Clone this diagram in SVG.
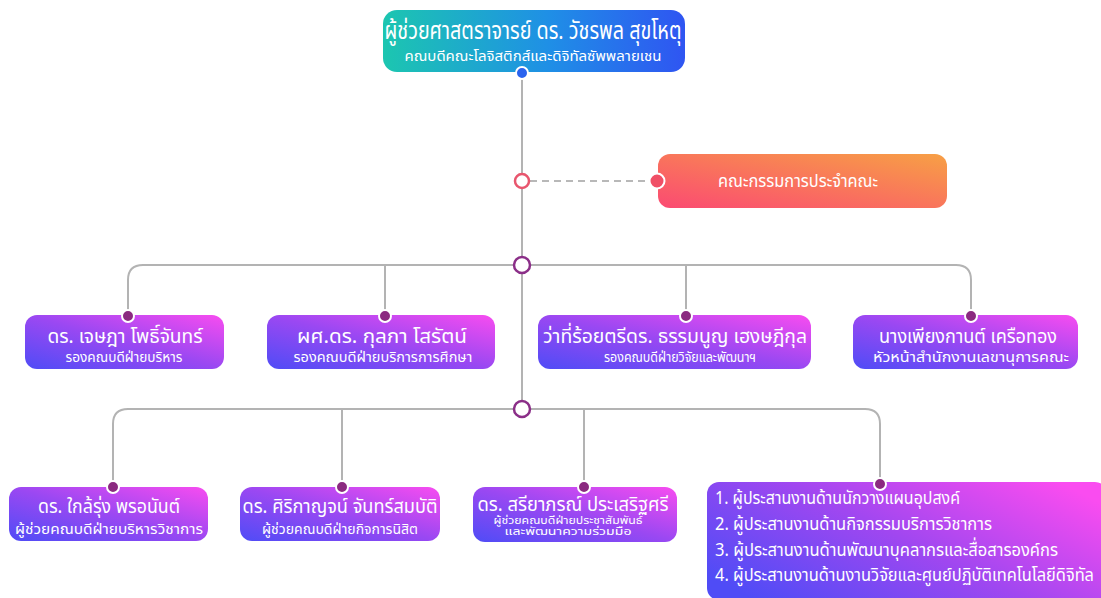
<svg xmlns="http://www.w3.org/2000/svg" width="1101" height="598" viewBox="0 0 1101 598">
<defs>
<linearGradient id="gTop" x1="0" y1="0" x2="1" y2="0">
<stop offset="0" stop-color="#1cc6b0"/><stop offset="0.55" stop-color="#1f8fe6"/><stop offset="1" stop-color="#2f55f2"/>
</linearGradient>
<linearGradient id="gRed" x1="0" y1="1" x2="1" y2="0">
<stop offset="0" stop-color="#fb4a72"/><stop offset="1" stop-color="#f7a045"/>
</linearGradient>
<linearGradient id="gPur" x1="0" y1="1" x2="1" y2="0">
<stop offset="0" stop-color="#4f4cf6"/><stop offset="0.5" stop-color="#9a48f2"/><stop offset="1" stop-color="#f84cf0"/>
</linearGradient>
<linearGradient id="gPur8" x1="0" y1="0.8" x2="1" y2="0.2">
<stop offset="0" stop-color="#4f4cf6"/><stop offset="0.5" stop-color="#a047f0"/><stop offset="1" stop-color="#fa4cf0"/>
</linearGradient>
</defs>
<style>
text{font-family:"Noto Sans Thai","Noto Sans","DejaVu Sans",sans-serif;fill:#fff;text-anchor:middle}
.nm{font-size:20px}
.rl{font-size:14px}
.l8{font-size:18.5px;text-anchor:start}
.ln{fill:none;stroke:#b3b3b3;stroke-width:2}
.ring{fill:#fff;stroke:#8b2f88;stroke-width:2.5}
.dot{fill:#8b2a80;stroke:#fff;stroke-width:2}
.box{fill:url(#gPur)}
</style>
<rect width="1101" height="598" fill="#fff"/>
<g id="connectors">
<path class="ln" d="M522 78 V409"/>
<path d="M530 181 H649" fill="none" stroke="#b8b8b8" stroke-width="2" stroke-dasharray="7 5"/>
<path class="ln" d="M128 316 V280 Q128 265 143 265 H956 Q971 265 971 280 V316"/>
<path class="ln" d="M385 265 V316 M686 265 V316"/>
<path class="ln" d="M113 487 V424 Q113 409 128 409 H865 Q880 409 880 424 V482"/>
<path class="ln" d="M342 409 V487 M584 409 V487"/>
</g>
<g id="dean">
<rect x="383" y="10" width="302" height="62" rx="14" fill="url(#gTop)"/>
<text x="533" y="39" style="font-size:24px" textLength="297" lengthAdjust="spacingAndGlyphs">ผู้ช่วยศาสตราจารย์ ดร. วัชรพล  สุขโหตุ</text>
<text x="533" y="61" style="font-size:14.5px" textLength="257" lengthAdjust="spacingAndGlyphs">คณบดีคณะโลจิสติกส์และดิจิทัลซัพพลายเชน</text>
<circle cx="522" cy="73" r="6" fill="#2a63ee" stroke="#fff" stroke-width="2"/>
</g>
<g id="committee">
<rect x="658" y="154" width="289" height="54" rx="12" fill="url(#gRed)"/>
<text x="798" y="187" style="font-size:18px" textLength="160" lengthAdjust="spacingAndGlyphs">คณะกรรมการประจำคณะ</text>
<circle cx="522" cy="181" r="7" fill="#fff" stroke="#e8566e" stroke-width="2.5"/>
<circle cx="657" cy="181" r="7.5" fill="#f04f66" stroke="#fff" stroke-width="2"/>
</g>
<g id="hub1"><circle class="ring" cx="522" cy="265" r="8"/></g>
<g id="hub2"><circle class="ring" cx="522" cy="409" r="8"/></g>
<g id="n1">
<rect class="box" x="25" y="315" width="199" height="54" rx="12"/>
<text class="nm" x="125" y="343" textLength="155" lengthAdjust="spacingAndGlyphs">ดร. เจษฎา  โพธิ์จันทร์</text>
<text class="rl" x="124" y="362" textLength="117" lengthAdjust="spacingAndGlyphs">รองคณบดีฝ่ายบริหาร</text>
<circle class="dot" cx="128" cy="316" r="6"/>
</g>
<g id="n2">
<rect class="box" x="267" y="315" width="228" height="54" rx="12"/>
<text class="nm" x="382" y="343" textLength="170" lengthAdjust="spacingAndGlyphs">ผศ.ดร. กุลภา  โสรัตน์</text>
<text class="rl" x="383" y="362" textLength="179" lengthAdjust="spacingAndGlyphs">รองคณบดีฝ่ายบริการการศึกษา</text>
<circle class="dot" cx="385" cy="316" r="6"/>
</g>
<g id="n3">
<rect class="box" x="538" y="315" width="273" height="54" rx="12"/>
<text class="nm" x="675" y="343" textLength="264" lengthAdjust="spacingAndGlyphs">ว่าที่ร้อยตรีดร. ธรรมนูญ  เฮงษฎีกุล</text>
<text class="rl" x="680" y="362" textLength="152" lengthAdjust="spacingAndGlyphs">รองคณบดีฝ่ายวิจัยและพัฒนาฯ</text>
<circle class="dot" cx="686" cy="316" r="6"/>
</g>
<g id="n4">
<rect class="box" x="853" y="315" width="225" height="54" rx="12"/>
<text class="nm" x="968" y="343" textLength="178" lengthAdjust="spacingAndGlyphs">นางเพียงกานต์ เครือทอง</text>
<text class="rl" x="971" y="362" textLength="196" lengthAdjust="spacingAndGlyphs">หัวหน้าสำนักงานเลขานุการคณะ</text>
<circle class="dot" cx="971" cy="316" r="6"/>
</g>
<g id="n5">
<rect class="box" x="9" y="487" width="199" height="54" rx="12"/>
<text class="nm" x="109" y="513" textLength="142" lengthAdjust="spacingAndGlyphs">ดร. ใกล้รุ่ง พรอนันต์</text>
<text class="rl" x="109" y="534" textLength="188" lengthAdjust="spacingAndGlyphs">ผู้ช่วยคณบดีฝ่ายบริหารวิชาการ</text>
<circle class="dot" cx="113" cy="487" r="6"/>
</g>
<g id="n6">
<rect class="box" x="240" y="487" width="200" height="54" rx="12"/>
<text class="nm" x="340" y="513" textLength="195" lengthAdjust="spacingAndGlyphs">ดร. ศิริกาญจน์ จันทร์สมบัติ</text>
<text class="rl" x="340" y="534" textLength="156" lengthAdjust="spacingAndGlyphs">ผู้ช่วยคณบดีฝ่ายกิจการนิสิต</text>
<circle class="dot" cx="342" cy="487" r="6"/>
</g>
<g id="n7">
<rect class="box" x="473" y="487" width="204" height="55" rx="12"/>
<text x="573" y="511" style="font-size:19px" textLength="191" lengthAdjust="spacingAndGlyphs">ดร. สรียาภรณ์ ประเสริฐศรี</text>
<text x="568" y="524" style="font-size:10.5px" textLength="149" lengthAdjust="spacingAndGlyphs">ผู้ช่วยคณบดีฝ่ายประชาสัมพันธ์</text>
<text x="568" y="535" style="font-size:10.5px" textLength="127" lengthAdjust="spacingAndGlyphs">และพัฒนาความร่วมมือ</text>
<circle class="dot" cx="584" cy="487" r="6"/>
</g>
<g id="n8">
<rect x="707" y="482" width="400" height="118" rx="12" fill="url(#gPur8)"/>
<text class="l8" x="715" y="504" textLength="245" lengthAdjust="spacingAndGlyphs">1. ผู้ประสานงานด้านนักวางแผนอุปสงค์</text>
<text class="l8" x="715" y="530" textLength="277" lengthAdjust="spacingAndGlyphs">2. ผู้ประสานงานด้านกิจกรรมบริการวิชาการ</text>
<text class="l8" x="715" y="556" textLength="343" lengthAdjust="spacingAndGlyphs">3. ผู้ประสานงานด้านพัฒนาบุคลากรและสื่อสารองค์กร</text>
<text class="l8" x="715" y="581" textLength="379" lengthAdjust="spacingAndGlyphs">4. ผู้ประสานงานด้านงานวิจัยและศูนย์ปฏิบัติเทคโนโลยีดิจิทัล</text>
<circle class="dot" cx="880" cy="484" r="6"/>
</g>
</svg>
